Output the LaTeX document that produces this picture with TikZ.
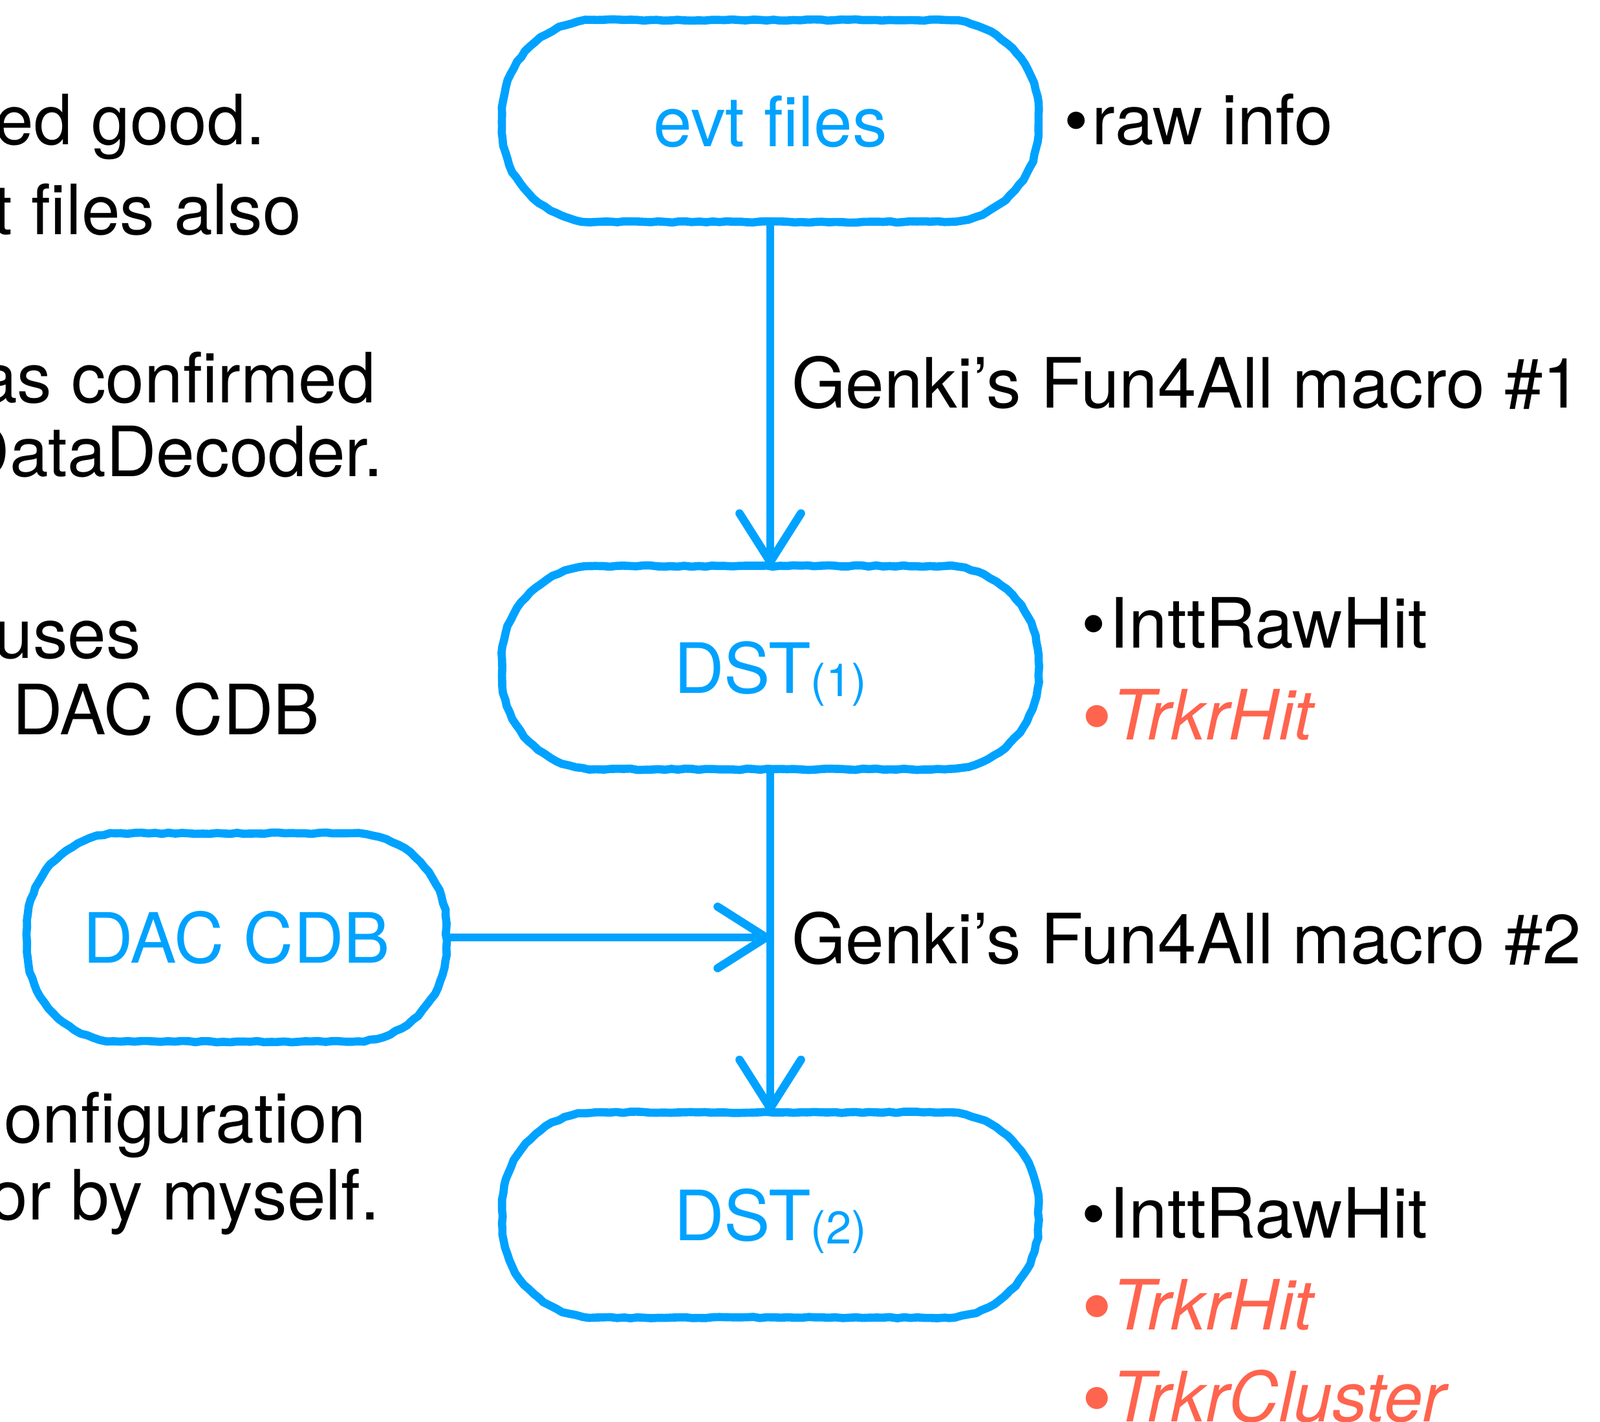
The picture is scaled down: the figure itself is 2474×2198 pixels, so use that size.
\documentclass[tikz,border=0pt]{standalone}
\usepackage{fontspec}
\setmainfont{TeX Gyre Heros}
\usetikzlibrary{arrows.meta,decorations.pathmorphing,calc}
\definecolor{kblue}{RGB}{0,162,255}
\definecolor{kred}{RGB}{255,100,78}
\newcommand{\subtxt}[1]{{\fontsize{20.1pt}{21pt}\selectfont\raisebox{-0.08em}{#1}}}
\newcommand{\blkbullet}{•\hspace{0.06em}}
\newcommand{\redbullet}{{\upshape\fontsize{38.8pt}{39pt}\selectfont\raisebox{-3pt}{•}}}
\newcommand{\chalkbox}[2]{%
  \draw[chalk] ([xshift=#2]#1.north west) -- ([xshift=-#2]#1.north east)
    arc[start angle=90,end angle=0,radius=#2] -- ([yshift=#2]#1.south east)
    arc[start angle=0,end angle=-90,radius=#2] -- ([xshift=#2]#1.south west)
    arc[start angle=270,end angle=180,radius=#2] -- ([yshift=-#2]#1.north west)
    arc[start angle=180,end angle=90,radius=#2] -- cycle;}
\begin{document}
\begin{tikzpicture}[x=0.01cm,y=-0.01cm,
  every node/.style={inner sep=0pt, outer sep=0pt, font=\fontsize{30.5pt}{36pt}\selectfont},
  boxnode/.style={text=kblue, text height=22.2pt, text depth=0pt},
  chalk/.style={draw=kblue, line width=3.6pt, line join=round, line cap=round,
    decorate, decoration={random steps, segment length=3pt, amplitude=0.3pt}},
  conn/.style={draw=kblue, line width=3.6pt, line cap=round,
    -{Straight Barb[length=0.75cm, width=0.95cm, round]}},
  note/.style={anchor=base east, text=black},
  item/.style={anchor=base west, text=black},
  redit/.style={anchor=base west, text=kred, font=\fontsize{30.5pt}{36pt}\selectfont\itshape},
]
\useasboundingbox (0,0) rectangle (2474,2198);
\clip (0,0) rectangle (2474,2198);

% boxes
\node[boxnode, minimum width=8.29cm, minimum height=3.12cm] (evt) at (1191,187) {evt files};
\node[boxnode, minimum width=8.29cm, minimum height=3.14cm] (dst1) at (1191,1032) {DST\subtxt{(1)}};
\node[boxnode, minimum width=8.29cm, minimum height=3.17cm] (dst2) at (1191,1878) {DST\subtxt{(2)}};
\node[boxnode, minimum width=6.48cm, minimum height=3.22cm] (dac) at (366,1449) {DAC CDB};
\chalkbox{evt}{1.45cm}
\chalkbox{dst1}{1.45cm}
\chalkbox{dst2}{1.45cm}
\chalkbox{dac}{1.45cm}

% connectors
\coordinate (join) at (dst1.south |- dac.east);
\draw[conn] (evt.south) -- (dst1.north);
\draw[conn] (dst1.south) -- (dst2.north);
\draw[conn] (dac.east) -- (join);

% connector labels
\node[item] (m1) at (1224,631) {Genki’s Fun4All macro \#1};
\node[item] (m2) at (1224,1490) {Genki’s Fun4All macro \#2};

% contents
\node[item] (raw) at (1645,224) {\blkbullet raw info};
\node[item] (a1) at (1672,1002) {\blkbullet InttRawHit};
\node[redit] (a2) at (1672,1144) {\redbullet TrkrHit};
\node[item] (b1) at (1672,1914) {\blkbullet InttRawHit};
\node[redit] (b2) at (1672,2056) {\redbullet TrkrHit};
\node[redit] (b3) at (1672,2198) {\redbullet TrkrCluster};

% left notes (cut at the left edge)
\node[note] (n1) at (410,224) {ed good.};
\node[note] (n2) at (466,363) {t files also};
\node[note] (n3) at (581,623) {as confirmed};
\node[note] (n4) at (592,737) {DataDecoder.};
\node[note] (n5) at (218,1018) {uses};
\node[note] (n6) at (494,1136) {DAC CDB};
\node[note] (n7) at (566,1767) {onfiguration};
\node[note] (n8) at (587,1886) {or by myself.};
\end{tikzpicture}
\end{document}
